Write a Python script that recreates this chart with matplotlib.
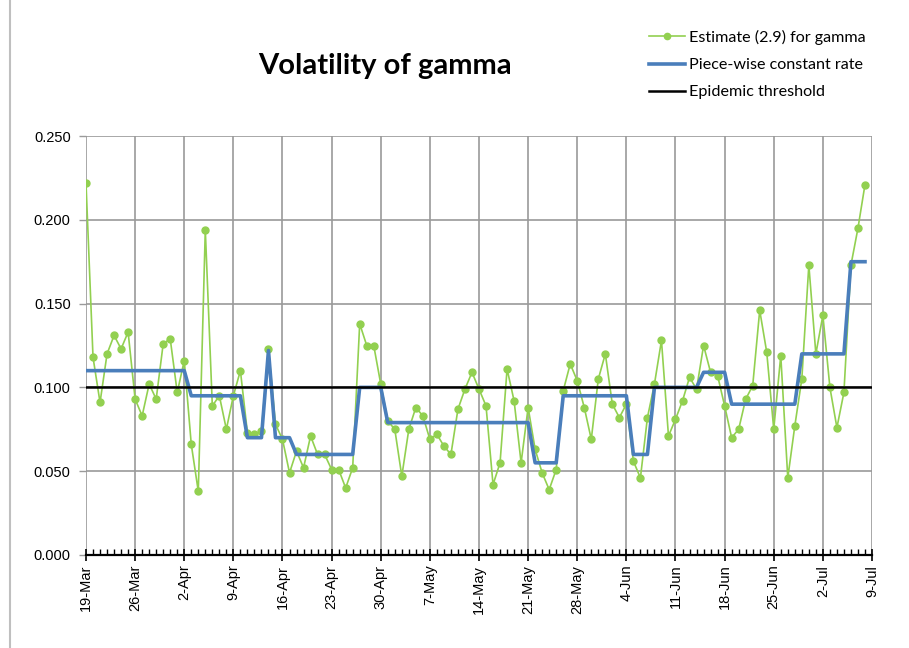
import matplotlib
matplotlib.use("Agg")
import matplotlib.pyplot as plt
import matplotlib.dates as mdates
import pandas as pd

# daily values, 19-Mar .. 8-Jul
start_date = "2020-03-19"
estimate = [
    # Mar 19-31
    0.222, 0.118, 0.091, 0.120, 0.131, 0.123, 0.133, 0.093, 0.083, 0.102, 0.093, 0.126, 0.129,
    # Apr 1-30
    0.097, 0.116, 0.066, 0.038, 0.194, 0.089, 0.095, 0.075, 0.095, 0.110,
    0.073, 0.072, 0.074, 0.123, 0.078, 0.069, 0.049, 0.062, 0.052, 0.071,
    0.060, 0.060, 0.051, 0.051, 0.040, 0.052, 0.138, 0.125, 0.125, 0.102,
    # May 1-31
    0.080, 0.075, 0.047, 0.075, 0.088, 0.083, 0.069, 0.072, 0.065, 0.060,
    0.087, 0.099, 0.109, 0.099, 0.089, 0.042, 0.055, 0.111, 0.092, 0.055,
    0.088, 0.063, 0.049, 0.039, 0.051, 0.098, 0.114, 0.104, 0.088, 0.069, 0.105,
    # Jun 1-30
    0.120, 0.090, 0.082, 0.090, 0.056, 0.046, 0.082, 0.102, 0.128, 0.071,
    0.081, 0.092, 0.106, 0.099, 0.125, 0.109, 0.107, 0.089, 0.070, 0.075,
    0.093, 0.101, 0.146, 0.121, 0.075, 0.119, 0.046, 0.077, 0.105, 0.173,
    # Jul 1-8
    0.120, 0.143, 0.100, 0.076, 0.097, 0.173, 0.195, 0.221,
]

piecewise = [
    # Mar 19-31
    0.110, 0.110, 0.110, 0.110, 0.110, 0.110, 0.110, 0.110, 0.110, 0.110, 0.110, 0.110, 0.110,
    # Apr 1-30
    0.110, 0.110, 0.095, 0.095, 0.095, 0.095, 0.095, 0.095, 0.095, 0.095,
    0.070, 0.070, 0.070, 0.122, 0.070, 0.070, 0.070, 0.060, 0.060, 0.060,
    0.060, 0.060, 0.060, 0.060, 0.060, 0.060, 0.100, 0.100, 0.100, 0.100,
    # May 1-31
    0.079, 0.079, 0.079, 0.079, 0.079, 0.079, 0.079, 0.079, 0.079, 0.079,
    0.079, 0.079, 0.079, 0.079, 0.079, 0.079, 0.079, 0.079, 0.079, 0.079,
    0.079, 0.055, 0.055, 0.055, 0.055, 0.095, 0.095, 0.095, 0.095, 0.095, 0.095,
    # Jun 1-30
    0.095, 0.095, 0.095, 0.095, 0.060, 0.060, 0.060, 0.100, 0.100, 0.100,
    0.100, 0.100, 0.100, 0.100, 0.109, 0.109, 0.109, 0.109, 0.090, 0.090,
    0.090, 0.090, 0.090, 0.090, 0.090, 0.090, 0.090, 0.090, 0.120, 0.120,
    # Jul 1-8
    0.120, 0.120, 0.120, 0.120, 0.120, 0.175, 0.175, 0.175,
]

threshold = 0.1
dates = pd.date_range(start_date, periods=len(estimate), freq="D")

fig = plt.figure(figsize=(9.09, 6.48), dpi=100)
ax = fig.add_axes([86 / 909, 1 - 555 / 648, 786 / 909, 419 / 648])

ax.plot(dates, estimate, color="#92D050", lw=1.2, marker="o", ms=5,
        label="Estimate (2.9) for gamma", zorder=3)
ax.plot(dates, piecewise, color="#4A7EBB", lw=2.6,
        label="Piece-wise constant rate", zorder=4)
ax.axhline(threshold, color="black", lw=1.8, label="Epidemic threshold", zorder=5)

ax.set_xlim(pd.Timestamp("2020-03-19"), pd.Timestamp("2020-07-09"))
ax.set_ylim(0, 0.25)
ax.set_yticks([0, 0.05, 0.10, 0.15, 0.20, 0.25])
ax.yaxis.set_major_formatter(matplotlib.ticker.FormatStrFormatter("%.3f"))

week_ticks = pd.date_range("2020-03-19", "2020-07-09", freq="7D")
ax.set_xticks(week_ticks)
ax.set_xticklabels([d.strftime("%d-%b").lstrip("0") for d in week_ticks],
                   rotation=90, fontsize=10.5, family="Liberation Sans")
ax.xaxis.set_minor_locator(mdates.DayLocator())

for lab in ax.get_yticklabels():
    lab.set_family("Liberation Sans")
    lab.set_fontsize(10.5)

ax.grid(True, which="major", color="#9A9A9A", lw=1.2)
ax.set_axisbelow(True)
for s in ["top", "right", "left"]:
    ax.spines[s].set_visible(False)
ax.spines["bottom"].set_color("black")
ax.spines["bottom"].set_linewidth(1.6)
ax.spines["bottom"].set_zorder(6)

ax.tick_params(axis="x", which="major", direction="inout", length=8, width=1.2, pad=3)
ax.tick_params(axis="x", which="minor", direction="in", length=4, width=1)
ax.tick_params(axis="y", which="major", direction="out", length=5, width=1,
               color="#9A9A9A", pad=6)

fig.text(385 / 909, 1 - 66 / 648, "Volatility of gamma", ha="center", va="center",
         fontsize=21, fontweight="bold", family="Lato")

fig.legend(loc="upper left", bbox_to_anchor=(641 / 909, 1 - 22 / 648),
           frameon=False, prop={"family": "Lato", "size": 11.6},
           handlelength=2.2, handletextpad=0.25, labelspacing=0.8, borderpad=0,
           markerscale=0.9)

# chart area border on the left
fig.add_artist(plt.Line2D([10 / 909, 10 / 909], [0, 1], color="#BFBFBF", lw=1.5,
                          transform=fig.transFigure))

fig.savefig("out.png", dpi=100)
